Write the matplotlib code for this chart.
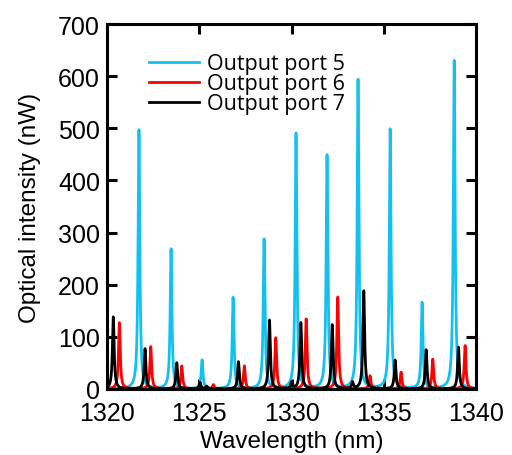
import numpy as np
import matplotlib
matplotlib.use("Agg")
import matplotlib.pyplot as plt

# peak centres (nm) and heights (nW)
port5_centres = [1321.73, 1323.47, 1325.15, 1326.83, 1328.51, 1330.24,
                 1331.92, 1333.60, 1335.34, 1337.07, 1338.81]
port5_heights = [497, 268, 55, 175, 287, 490, 448, 593, 498, 165, 630]

port6_centres = [1320.67, 1322.37, 1324.05, 1325.76, 1327.44, 1329.14,
                 1330.79, 1332.50, 1334.25, 1335.93, 1337.65, 1339.40]
port6_heights = [127, 81, 44, 8, 44, 98, 134, 176, 25, 32, 57, 83]

port7_centres = [1320.34, 1322.06, 1323.78, 1325.04, 1325.40, 1327.12,
                 1328.80, 1330.00, 1330.50, 1332.20, 1333.30, 1333.91,
                 1335.61, 1337.29, 1339.04]
port7_heights = [138, 77, 50, 12, 5, 52, 132, 12, 127, 123, 12, 188,
                 55, 75, 80]

series_labels = ["Output port 5", "Output port 6", "Output port 7"]
series_colors = ["#12c1f0", "#ff0000", "#000000"]


def spectrum(wl, centres, heights, gamma=0.055):
    y = np.zeros_like(wl)
    for c, h in zip(centres, heights):
        y += h * gamma**2 / ((wl - c) ** 2 + gamma**2)
    return y


wl = np.linspace(1320, 1340, 8000)
spectra = [
    spectrum(wl, port5_centres, port5_heights),
    spectrum(wl, port6_centres, port6_heights),
    spectrum(wl, port7_centres, port7_heights),
]

plt.rcParams["font.family"] = ["Liberation Sans", "DejaVu Sans"]

fig = plt.figure(figsize=(5.12, 4.56), dpi=100)
ax = fig.add_axes([0.209, 0.145, 0.721, 0.80])

for y, lab, col in zip(spectra, series_labels, series_colors):
    ax.plot(wl, y, color=col, lw=2.0, label=lab)

ax.set_xlim(1320, 1340)
ax.set_ylim(0, 700)
ax.set_xticks(np.arange(1320, 1341, 5))
ax.set_yticks(np.arange(0, 701, 100))
ax.tick_params(direction="in", length=7, width=2.2, labelsize=18,
               top=True, right=True)
ax.tick_params(axis="x", pad=9)
ax.tick_params(axis="y", pad=5)
for s in ax.spines.values():
    s.set_linewidth(2.2)

ax.set_xlabel("Wavelength (nm)", fontsize=17.5, labelpad=3)
ax.set_ylabel("Optical intensity (nW)", fontsize=17.5, labelpad=12)

ax.legend(loc="upper left", bbox_to_anchor=(0.08, 0.955), frameon=False,
          handlelength=2.3, handletextpad=0.35, labelspacing=-0.05,
          borderaxespad=0.2,
          prop={"family": "Open Sans", "size": 15.5})

fig.savefig("out.png", dpi=100)
